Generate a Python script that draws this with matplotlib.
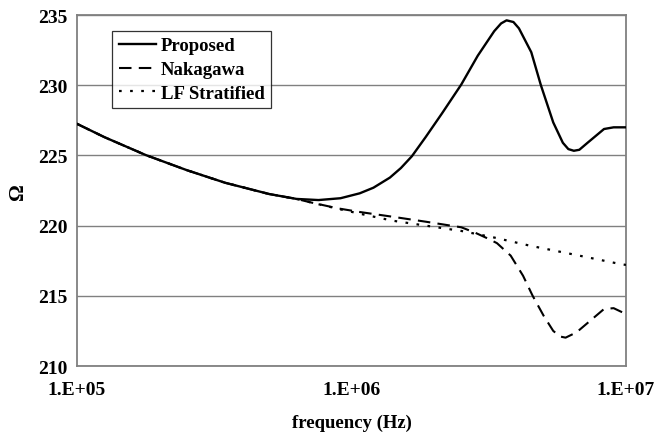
import numpy as np
import matplotlib
matplotlib.use("Agg")
import matplotlib.pyplot as plt

# log10 of frequency (Hz) and impedance (ohm)
common_logf = [5.0, 5.1, 5.25, 5.4, 5.54, 5.7, 5.8]
common_vals = [227.25, 226.3, 225.03, 223.95, 223.05, 222.25, 221.9]

proposed_logf = [5.88, 5.96, 6.03, 6.08, 6.14, 6.18, 6.22, 6.27, 6.33, 6.40,
                 6.46, 6.52, 6.545, 6.565, 6.59, 6.61, 6.655, 6.69, 6.735,
                 6.77, 6.79, 6.81, 6.83, 6.86, 6.92, 6.955, 7.0]
proposed_vals = [221.82, 221.95, 222.3, 222.7, 223.42, 224.1, 224.94, 226.3,
                 228.0, 230.05, 232.1, 233.85, 234.4, 234.62, 234.5, 234.05,
                 232.35, 230.0, 227.35, 225.9, 225.45, 225.33, 225.4, 225.9,
                 226.88, 227.0, 227.0]

nakagawa_logf = [5.85, 5.95, 6.03, 6.15, 6.27, 6.40, 6.45, 6.50, 6.53, 6.58,
                 6.625, 6.66, 6.70, 6.735, 6.76, 6.78, 6.82, 6.87, 6.92,
                 6.955, 7.0]
nakagawa_vals = [221.66, 221.23, 220.97, 220.63, 220.28, 219.88, 219.5,
                 219.05, 218.75, 217.86, 216.43, 215.0, 213.58, 212.5, 212.1,
                 212.02, 212.4, 213.23, 214.06, 214.12, 213.7]

lf_logf = [5.85, 5.95, 6.03, 6.15, 6.27, 6.40, 6.52, 6.65, 6.80, 6.98, 7.0]
lf_vals = [221.66, 221.2, 220.85, 220.35, 220.0, 219.62, 219.15, 218.57,
           217.98, 217.26, 217.2]

y_ticks = [210, 215, 220, 225, 230, 235]
x_ticks = [1e5, 1e6, 1e7]
x_ticklabels = ["1.E+05", "1.E+06", "1.E+07"]


def series(logf, vals):
    f = 10 ** np.array(common_logf + logf)
    return f, np.array(common_vals + vals)


plt.rcParams["font.family"] = ["Liberation Serif", "DejaVu Serif"]
plt.rcParams["font.weight"] = "bold"

fig = plt.figure(figsize=(6.7, 4.35), dpi=100)
ax = fig.add_axes([0.1149, 0.1563, 0.8194, 0.8069])

f, v = series(proposed_logf, proposed_vals)
ax.plot(f, v, color="black", lw=1.7, label="Proposed", zorder=3)
f, v = series(nakagawa_logf, nakagawa_vals)
ax.plot(f, v, color="black", lw=1.5, dashes=(6, 3.5), label="Nakagawa", zorder=3)
f, v = series(lf_logf, lf_vals)
ax.plot(f, v, color="black", lw=1.6, dashes=(1.2, 3.8), label="LF Stratified", zorder=3)

ax.set_xscale("log")
ax.set_xlim(1e5, 1e7)
ax.set_ylim(210, 235)
ax.set_yticks(y_ticks)
ax.set_xticks(x_ticks)
ax.set_xticklabels(x_ticklabels)
ax.minorticks_off()
ax.tick_params(length=0, labelsize=14, pad=7)
ax.tick_params(axis="x", pad=11)
ax.grid(axis="y", color="#808080", lw=1.0)
ax.set_axisbelow(True)
for s in ax.spines.values():
    s.set_color("#808080")
    s.set_linewidth(1.3)

ax.set_xlabel("frequency (Hz)", fontsize=13.5, fontweight="bold", labelpad=11)
ax.set_ylabel("Ω", fontsize=15, fontweight="bold", labelpad=7)

leg = ax.legend(loc="upper left", bbox_to_anchor=(0.064, 0.955), fontsize=13.5,
                frameon=True, fancybox=False, handlelength=2.0,
                handletextpad=0.25, borderpad=0.35, labelspacing=0.35,
                borderaxespad=0)
leg.get_frame().set_edgecolor("black")
leg.get_frame().set_linewidth(0.9)

fig.savefig("out.png", dpi=100)
